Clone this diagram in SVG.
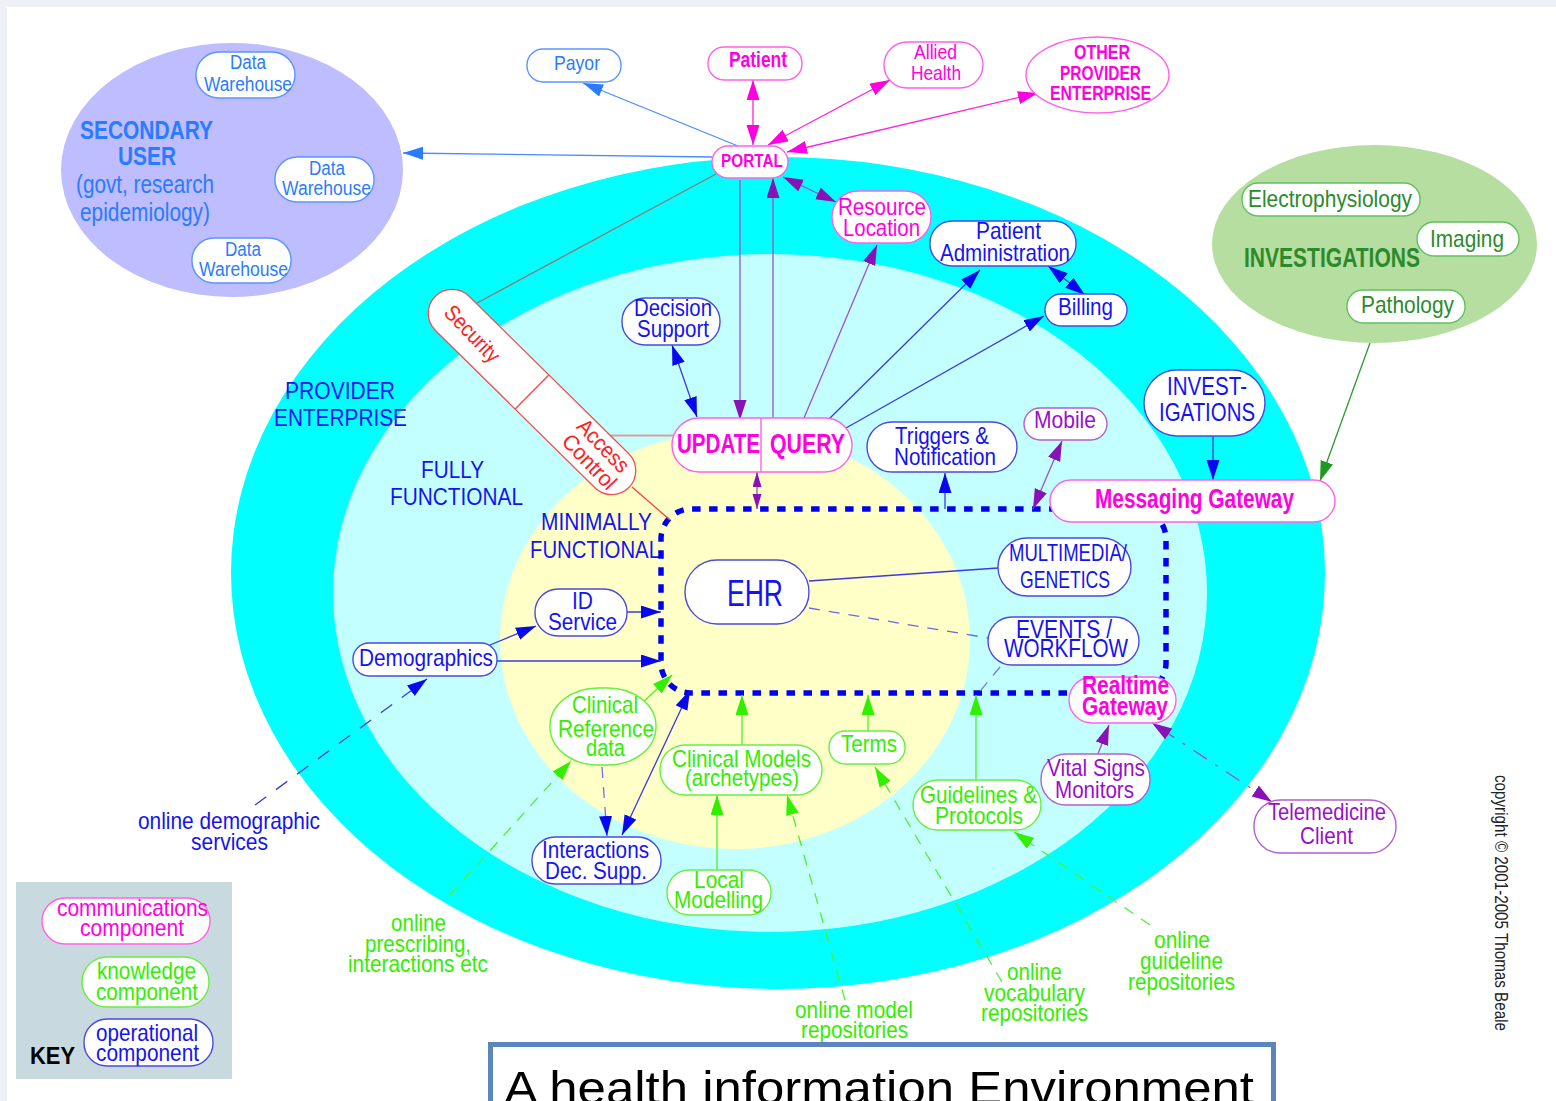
<svg xmlns="http://www.w3.org/2000/svg" width="1556" height="1101" viewBox="0 0 1556 1101">
<style>
text{font-family:"Liberation Sans",Arial,sans-serif;font-size:24px}
.b{fill:#1414f0}.s{fill:#2a7bff}.m{fill:#ff00e0}.p{fill:#9a10c8}.g{fill:#33ee00}.r{fill:#ff2020}.dg{fill:#2c8a2c}
.bd{font-weight:bold}
.nb,.ns,.nm,.np,.ng{fill:#fff;stroke-width:1.4}
.nb{stroke:#4a4ae0}.ns{stroke:#5a95ff}.nm{stroke:#ff60e8}.np{stroke:#b060d0}.ng{stroke:#66f040}
.c{fill:none;stroke-width:1.3}
.cb{stroke:#3a3ae0}.cs{stroke:#4a8cff}.cm{stroke:#ff20e0}.cp{stroke:#a050c8}.cg{stroke:#50f030}.cd{stroke:#2c9a2c}
.d{stroke-dasharray:11 9}
</style>
<defs>
<marker id="ab" markerUnits="userSpaceOnUse" markerWidth="22" markerHeight="15" refX="20" refY="6.500" orient="auto-start-reverse"><path d="M0,0L20,6.500L0,13z" fill="#0808f0"/></marker>
<marker id="as" markerUnits="userSpaceOnUse" markerWidth="22" markerHeight="15" refX="20" refY="6.500" orient="auto-start-reverse"><path d="M0,0L20,6.500L0,13z" fill="#2a7bff"/></marker>
<marker id="am" markerUnits="userSpaceOnUse" markerWidth="22" markerHeight="15" refX="20" refY="6.500" orient="auto-start-reverse"><path d="M0,0L20,6.500L0,13z" fill="#ff00e0"/></marker>
<marker id="ap" markerUnits="userSpaceOnUse" markerWidth="22" markerHeight="15" refX="20" refY="6.500" orient="auto-start-reverse"><path d="M0,0L20,6.500L0,13z" fill="#8a10b8"/></marker>
<marker id="aps" markerUnits="userSpaceOnUse" markerWidth="16" markerHeight="10" refX="15" refY="4.500" orient="auto-start-reverse"><path d="M0,0L15,4.500L0,9z" fill="#8a10b8"/></marker>
<marker id="ag" markerUnits="userSpaceOnUse" markerWidth="22" markerHeight="15" refX="20" refY="6.500" orient="auto-start-reverse"><path d="M0,0L20,6.500L0,13z" fill="#30f000"/></marker>
<marker id="ad" markerUnits="userSpaceOnUse" markerWidth="22" markerHeight="15" refX="20" refY="6.500" orient="auto-start-reverse"><path d="M0,0L20,6.500L0,13z" fill="#1f9a1f"/></marker>
</defs>
<rect width="1556" height="1101" fill="#eef0f5"/>
<rect x="7" y="7" width="1549" height="1094" fill="#fff"/>
<g id="zones">
<ellipse cx="778" cy="573" rx="547" ry="416" fill="#00ffff"/>
<ellipse cx="770" cy="593" rx="437" ry="339" fill="#c4ffff"/>
<ellipse cx="735" cy="640" rx="235" ry="209" fill="#ffffc8"/>
<ellipse cx="232" cy="170" rx="171" ry="127" fill="#bdbdff"/>
<ellipse cx="1374.500" cy="244" rx="162.500" ry="99" fill="#b5dea0"/>
<text class="b" x="285" y="399" textLength="110" lengthAdjust="spacingAndGlyphs">PROVIDER</text>
<text class="b" x="274" y="426" textLength="133" lengthAdjust="spacingAndGlyphs">ENTERPRISE</text>
<text class="b" x="421" y="478" textLength="63" lengthAdjust="spacingAndGlyphs">FULLY</text>
<text class="b" x="390" y="505" textLength="133" lengthAdjust="spacingAndGlyphs">FUNCTIONAL</text>
<text class="b" x="541" y="530" textLength="111" lengthAdjust="spacingAndGlyphs">MINIMALLY</text>
<text class="b" x="530" y="558" textLength="130" lengthAdjust="spacingAndGlyphs">FUNCTIONAL</text>
<text class="s bd" x="80" y="139" textLength="133" lengthAdjust="spacingAndGlyphs" style="font-size:26px">SECONDARY</text>
<text class="s bd" x="118" y="165" textLength="58" lengthAdjust="spacingAndGlyphs" style="font-size:26px">USER</text>
<text class="s" x="76" y="193" textLength="138" lengthAdjust="spacingAndGlyphs" style="font-size:25px">(govt, research</text>
<text class="s" x="80" y="221" textLength="130" lengthAdjust="spacingAndGlyphs" style="font-size:25px">epidemiology)</text>
<text class="dg bd" x="1244" y="267" textLength="176" lengthAdjust="spacingAndGlyphs" style="font-size:27px">INVESTIGATIONS</text>
</g>
<g id="connectors">
<path fill="none" stroke="#0000f0" stroke-width="5.500" stroke-dasharray="8.500 8.500" d="M701.500,693H1136A30,30 0 0 0 1166,663V539A30,30 0 0 0 1136,509H691A30,30 0 0 0 661,539V663A30,30 0 0 0 691,693H701.500"/>
<path class="c" stroke="#a07070" d="M477,303L716,174"/>
<path fill="none" stroke="#d8a0a0" stroke-width="2" d="M608,435.500H673"/>
<path class="c" stroke="#ff4040" d="M632,487L670,520"/>
<path class="c cs" marker-end="url(#as)" d="M738,146L583,83"/>
<path class="c cs" marker-end="url(#as)" d="M712,157L403,153"/>
<path class="c cm" marker-start="url(#am)" marker-end="url(#am)" d="M753,80V145"/>
<path class="c cm" marker-start="url(#am)" marker-end="url(#am)" d="M890,80L768,145"/>
<path class="c cm" marker-start="url(#am)" marker-end="url(#am)" d="M1038,93L787,152"/>
<path class="c cp" marker-start="url(#ap)" marker-end="url(#ap)" d="M783,177L836,202"/>
<path class="c cp" marker-end="url(#ap)" d="M740,180V420"/>
<path class="c cp" marker-end="url(#ap)" d="M773,418V178"/>
<path class="c cp" marker-end="url(#ap)" d="M804,418L877,245"/>
<path class="c cb" marker-end="url(#ab)" d="M828,420L980,270"/>
<path class="c cb" marker-end="url(#ab)" d="M846,428L1044,316"/>
<path class="c cb" marker-start="url(#ab)" marker-end="url(#ab)" d="M1048,266L1085,295"/>
<path class="c cb" marker-start="url(#ab)" marker-end="url(#ab)" d="M672,345L697,417"/>
<path class="c cp" marker-start="url(#aps)" marker-end="url(#aps)" d="M757,472V509"/>
<path class="c cb" marker-end="url(#ab)" d="M945,509V473"/>
<path class="c cp" marker-start="url(#ap)" marker-end="url(#ap)" d="M1062,441L1033,509"/>
<path class="c cb" marker-end="url(#ab)" d="M1213,436V480"/>
<path class="c cd" marker-end="url(#ad)" d="M1370,343L1320,481"/>
<path class="c cb" marker-end="url(#ab)" d="M627,612H661"/>
<path class="c cb" marker-end="url(#ab)" d="M490,645L536,626"/>
<path class="c cb" marker-end="url(#ab)" d="M497,661H661"/>
<path class="c cb" stroke-dasharray="14 12" marker-end="url(#ab)" d="M255,805L427,679"/>
<path class="c cg" marker-end="url(#ag)" d="M640,705L672,675"/>
<path class="c cb" marker-start="url(#ab)" marker-end="url(#ab)" d="M622,835L690,690"/>
<path class="c cb d" style="stroke:#7070ee" marker-end="url(#ab)" d="M602,767L607,836"/>
<path class="c cg" marker-end="url(#ag)" d="M742,745V695"/>
<path class="c cg" marker-end="url(#ag)" d="M868,731V695"/>
<path class="c cg" marker-end="url(#ag)" d="M976,780V695"/>
<path class="c cg" marker-end="url(#ag)" d="M717,870V795"/>
<path class="c cg d" marker-end="url(#ag)" d="M845,1000L787,795"/>
<path class="c cg d" marker-end="url(#ag)" d="M1002,982L875,767"/>
<path class="c cg d" marker-end="url(#ag)" d="M1150,925L1014,832"/>
<path class="c cg d" marker-end="url(#ag)" d="M450,895L571,761"/>
<path class="c cb" d="M809,581L998,568"/>
<path class="c cb d" style="stroke:#6a6ae0" d="M809,608L988,638"/>
<path class="c cb d" style="stroke:#7a7add" d="M1000,667L977,695"/>
<path class="c cp" marker-end="url(#ap)" d="M1098,754L1109,725"/>
<path class="c cp" stroke-dasharray="16 10 3 10" marker-start="url(#ap)" marker-end="url(#ap)" d="M1272,802L1152,723"/>
</g>
<g id="dw1"><rect class="ns" x="196" y="52" width="99" height="46" rx="23"/><text class="s" x="230" y="69" textLength="36" lengthAdjust="spacingAndGlyphs" style="font-size:20px">Data</text><text class="s" x="204" y="91" textLength="88" lengthAdjust="spacingAndGlyphs" style="font-size:20px">Warehouse</text></g>
<g id="dw2"><rect class="ns" x="275" y="157" width="99" height="45" rx="22"/><text class="s" x="309" y="175" textLength="36" lengthAdjust="spacingAndGlyphs" style="font-size:20px">Data</text><text class="s" x="282" y="195" textLength="89" lengthAdjust="spacingAndGlyphs" style="font-size:20px">Warehouse</text></g>
<g id="dw3"><rect class="ns" x="192" y="238" width="99" height="45" rx="22"/><text class="s" x="225" y="256" textLength="36" lengthAdjust="spacingAndGlyphs" style="font-size:20px">Data</text><text class="s" x="199" y="276" textLength="89" lengthAdjust="spacingAndGlyphs" style="font-size:20px">Warehouse</text></g>
<g id="payor"><rect class="ns" x="527" y="49" width="94" height="33" rx="16"/><text class="s" x="554" y="70" textLength="46" lengthAdjust="spacingAndGlyphs" style="font-size:21px">Payor</text></g>
<g id="patient"><rect class="nm" x="708" y="47" width="94" height="33" rx="16"/><text class="m bd" x="729" y="67" textLength="58" lengthAdjust="spacingAndGlyphs" style="font-size:22px">Patient</text></g>
<g id="allied"><rect class="nm" x="884" y="42" width="99" height="46" rx="23"/><text class="m" x="914" y="59" textLength="43" lengthAdjust="spacingAndGlyphs" style="font-size:21px">Allied</text><text class="m" x="911" y="80" textLength="50" lengthAdjust="spacingAndGlyphs" style="font-size:21px">Health</text></g>
<g id="other"><ellipse class="nm" cx="1097.500" cy="75" rx="71.500" ry="38"/><text class="m bd" x="1074" y="59" textLength="56" lengthAdjust="spacingAndGlyphs" style="font-size:20px">OTHER</text><text class="m bd" x="1060" y="80" textLength="81" lengthAdjust="spacingAndGlyphs" style="font-size:20px">PROVIDER</text><text class="m bd" x="1050" y="100" textLength="101" lengthAdjust="spacingAndGlyphs" style="font-size:20px">ENTERPRISE</text></g>
<g id="portal"><rect class="nm" x="712" y="146" width="76" height="32" rx="16"/><text class="m bd" x="721" y="167" textLength="62" lengthAdjust="spacingAndGlyphs" style="font-size:19px">PORTAL</text></g>
<g id="resource"><rect class="nm" x="832" y="191" width="99" height="52" rx="26"/><text class="m" x="838" y="215" textLength="88" lengthAdjust="spacingAndGlyphs">Resource</text><text class="m" x="843" y="236" textLength="77" lengthAdjust="spacingAndGlyphs">Location</text></g>
<g id="admin"><rect class="nb" x="930" y="221" width="146" height="45" rx="22"/><text class="b" x="976" y="239" textLength="65" lengthAdjust="spacingAndGlyphs">Patient</text><text class="b" x="940" y="261" textLength="130" lengthAdjust="spacingAndGlyphs">Administration</text></g>
<g id="billing"><rect class="nb" x="1045" y="294" width="82" height="32" rx="16"/><text class="b" x="1058" y="315" textLength="55" lengthAdjust="spacingAndGlyphs">Billing</text></g>
<g id="decision"><rect class="nb" x="622" y="298" width="98" height="47" rx="23"/><text class="b" x="634" y="316" textLength="78" lengthAdjust="spacingAndGlyphs">Decision</text><text class="b" x="637" y="337" textLength="72" lengthAdjust="spacingAndGlyphs">Support</text></g>
<g id="security"><g transform="translate(532,392) rotate(44.600)"><rect x="-136" y="-24" width="272" height="48" rx="24" fill="#fff" stroke="#f05050" stroke-width="1.300"/><path d="M0,-24V24" stroke="#f05050" stroke-width="1.500"/></g>
<text class="r" text-anchor="middle" transform="translate(467,339) rotate(46)" textLength="70" lengthAdjust="spacingAndGlyphs" style="font-size:22px">Security</text>
<text class="r" text-anchor="middle" transform="translate(598,451) rotate(46)" textLength="65" lengthAdjust="spacingAndGlyphs" style="font-size:22px">Access</text>
<text class="r" text-anchor="middle" transform="translate(584,467) rotate(46)" textLength="68" lengthAdjust="spacingAndGlyphs" style="font-size:22px">Control</text></g>
<g id="update-query"><rect class="nm" x="672" y="418" width="180" height="54" rx="27"/><path d="M761,418V472" stroke="#ff60e8" stroke-width="1.400"/><text class="m bd" x="677" y="453" textLength="83" lengthAdjust="spacingAndGlyphs" style="font-size:27px">UPDATE</text><text class="m bd" x="770" y="453" textLength="75" lengthAdjust="spacingAndGlyphs" style="font-size:27px">QUERY</text></g>
<g id="triggers"><rect class="nb" x="867" y="422" width="150" height="50" rx="25"/><text class="b" x="895" y="444" textLength="94" lengthAdjust="spacingAndGlyphs">Triggers &amp;</text><text class="b" x="894" y="465" textLength="102" lengthAdjust="spacingAndGlyphs">Notification</text></g>
<g id="mobile"><rect class="np" x="1024" y="408" width="83" height="32" rx="16"/><text class="p" x="1034" y="428" textLength="62" lengthAdjust="spacingAndGlyphs">Mobile</text></g>
<g id="invest"><rect class="nb" x="1144" y="370" width="121" height="66" rx="33"/><text class="b" x="1167" y="395" textLength="80" lengthAdjust="spacingAndGlyphs" style="font-size:25px">INVEST-</text><text class="b" x="1159" y="421" textLength="96" lengthAdjust="spacingAndGlyphs" style="font-size:25px">IGATIONS</text></g>
<g id="messaging"><rect class="nm" x="1050" y="480" width="285" height="42" rx="21"/><text class="m bd" x="1095" y="508" textLength="199" lengthAdjust="spacingAndGlyphs" style="font-size:27px">Messaging Gateway</text></g>
<g id="electro"><rect class="ng" style="stroke:#60c060" x="1242" y="183" width="178" height="33" rx="16"/><text class="dg" x="1248" y="207" textLength="164" lengthAdjust="spacingAndGlyphs">Electrophysiology</text></g>
<g id="imaging"><rect class="ng" style="stroke:#60c060" x="1417" y="222" width="102" height="34" rx="17"/><text class="dg" x="1430" y="247" textLength="74" lengthAdjust="spacingAndGlyphs">Imaging</text></g>
<g id="pathology"><rect class="ng" style="stroke:#60c060" x="1347" y="290" width="118" height="33" rx="16"/><text class="dg" x="1361" y="313" textLength="93" lengthAdjust="spacingAndGlyphs">Pathology</text></g>
<g id="ehr"><rect class="nb" x="685" y="560" width="124" height="64" rx="32"/><text class="b" x="727" y="606" textLength="56" lengthAdjust="spacingAndGlyphs" style="font-size:37px">EHR</text></g>
<g id="multimedia"><rect class="nb" x="998" y="538" width="133" height="58" rx="29"/><text class="b" x="1009" y="561" textLength="118" lengthAdjust="spacingAndGlyphs">MULTIMEDIA/</text><text class="b" x="1020" y="588" textLength="90" lengthAdjust="spacingAndGlyphs">GENETICS</text></g>
<g id="events"><rect class="nb" x="988" y="617" width="151" height="48" rx="24"/><text class="b" x="1016" y="638" textLength="96" lengthAdjust="spacingAndGlyphs" style="font-size:25px">EVENTS /</text><text class="b" x="1004" y="657" textLength="124" lengthAdjust="spacingAndGlyphs" style="font-size:25px">WORKFLOW</text></g>
<g id="id-service"><rect class="nb" x="535" y="589" width="92" height="47" rx="23"/><text class="b" x="572" y="609" textLength="21" lengthAdjust="spacingAndGlyphs">ID</text><text class="b" x="548" y="630" textLength="69" lengthAdjust="spacingAndGlyphs">Service</text></g>
<g id="demographics"><rect class="nb" x="353" y="643" width="144" height="33" rx="16"/><text class="b" x="359" y="666" textLength="134" lengthAdjust="spacingAndGlyphs">Demographics</text></g>
<g id="clinical-ref"><rect class="ng" x="550" y="688" width="106" height="77" rx="48" ry="38"/><text class="g" x="572" y="713" textLength="66" lengthAdjust="spacingAndGlyphs">Clinical</text><text class="g" x="558" y="737" textLength="96" lengthAdjust="spacingAndGlyphs">Reference</text><text class="g" x="586" y="756" textLength="39" lengthAdjust="spacingAndGlyphs">data</text></g>
<g id="clinical-models"><rect class="ng" x="660" y="745" width="162" height="50" rx="25"/><text class="g" x="672" y="767" textLength="139" lengthAdjust="spacingAndGlyphs">Clinical Models</text><text class="g" x="685" y="786" textLength="114" lengthAdjust="spacingAndGlyphs">(archetypes)</text></g>
<g id="terms"><rect class="ng" x="829" y="731" width="76" height="33" rx="16"/><text class="g" x="841" y="752" textLength="56" lengthAdjust="spacingAndGlyphs">Terms</text></g>
<g id="guidelines"><rect class="ng" x="913" y="780" width="128" height="50" rx="25"/><text class="g" x="920" y="803" textLength="117" lengthAdjust="spacingAndGlyphs">Guidelines &amp;</text><text class="g" x="935" y="824" textLength="88" lengthAdjust="spacingAndGlyphs">Protocols</text></g>
<g id="vital"><rect class="np" x="1041" y="754" width="109" height="51" rx="25"/><text class="p" x="1047" y="776" textLength="98" lengthAdjust="spacingAndGlyphs">Vital Signs</text><text class="p" x="1055" y="798" textLength="79" lengthAdjust="spacingAndGlyphs">Monitors</text></g>
<g id="realtime"><rect class="nm" x="1069" y="677" width="107" height="46" rx="23"/><text class="m bd" x="1082" y="694" textLength="87" lengthAdjust="spacingAndGlyphs" style="font-size:25px">Realtime</text><text class="m bd" x="1082" y="715" textLength="86" lengthAdjust="spacingAndGlyphs" style="font-size:25px">Gateway</text></g>
<g id="telemedicine"><rect class="np" x="1254" y="800" width="142" height="53" rx="26"/><text class="p" x="1268" y="820" textLength="118" lengthAdjust="spacingAndGlyphs">Telemedicine</text><text class="p" x="1300" y="844" textLength="53" lengthAdjust="spacingAndGlyphs">Client</text></g>
<g id="interactions"><rect class="nb" x="532" y="837" width="129" height="47" rx="23"/><text class="b" x="542" y="858" textLength="107" lengthAdjust="spacingAndGlyphs">Interactions</text><text class="b" x="545" y="879" textLength="102" lengthAdjust="spacingAndGlyphs">Dec. Supp.</text></g>
<g id="local"><rect class="ng" x="667" y="870" width="104" height="45" rx="22"/><text class="g" x="694" y="888" textLength="50" lengthAdjust="spacingAndGlyphs">Local</text><text class="g" x="674" y="908" textLength="89" lengthAdjust="spacingAndGlyphs">Modelling</text></g>
<g id="labels">
<text class="b" x="138" y="829" textLength="182" lengthAdjust="spacingAndGlyphs">online demographic</text>
<text class="b" x="191" y="850" textLength="77" lengthAdjust="spacingAndGlyphs">services</text>
<text class="g" x="391" y="931" textLength="55" lengthAdjust="spacingAndGlyphs">online</text>
<text class="g" x="365" y="952" textLength="106" lengthAdjust="spacingAndGlyphs">prescribing,</text>
<text class="g" x="348" y="972" textLength="140" lengthAdjust="spacingAndGlyphs">interactions etc</text>
<text class="g" x="795" y="1018" textLength="118" lengthAdjust="spacingAndGlyphs">online model</text>
<text class="g" x="801" y="1038" textLength="107" lengthAdjust="spacingAndGlyphs">repositories</text>
<text class="g" x="1007" y="980" textLength="55" lengthAdjust="spacingAndGlyphs">online</text>
<text class="g" x="984" y="1001" textLength="101" lengthAdjust="spacingAndGlyphs">vocabulary</text>
<text class="g" x="981" y="1021" textLength="107" lengthAdjust="spacingAndGlyphs">repositories</text>
<text class="g" x="1154" y="948" textLength="56" lengthAdjust="spacingAndGlyphs">online</text>
<text class="g" x="1140" y="969" textLength="83" lengthAdjust="spacingAndGlyphs">guideline</text>
<text class="g" x="1128" y="990" textLength="107" lengthAdjust="spacingAndGlyphs">repositories</text>
<text fill="#222" transform="translate(1495,775) rotate(90)" textLength="256" lengthAdjust="spacingAndGlyphs" style="font-size:18px">copyright © 2001-2005 Thomas Beale</text>
</g>
<g id="key">
<rect x="16" y="882" width="216" height="197" fill="#c9d9e0"/>
<g id="key-comm"><rect class="nm" x="42" y="898" width="168" height="46" rx="23"/><text class="m" x="57" y="916" textLength="151" lengthAdjust="spacingAndGlyphs">communications</text><text class="m" x="80" y="936" textLength="104" lengthAdjust="spacingAndGlyphs">component</text></g>
<g id="key-know"><rect class="ng" x="82" y="957" width="127" height="50" rx="25"/><text class="g" x="97" y="979" textLength="99" lengthAdjust="spacingAndGlyphs">knowledge</text><text class="g" x="96" y="1000" textLength="102" lengthAdjust="spacingAndGlyphs">component</text></g>
<g id="key-oper"><rect class="nb" x="84" y="1019" width="129" height="47" rx="23"/><text class="b" x="96" y="1041" textLength="102" lengthAdjust="spacingAndGlyphs">operational</text><text class="b" x="96" y="1061" textLength="103" lengthAdjust="spacingAndGlyphs">component</text></g>
<text x="30" y="1064" textLength="45" lengthAdjust="spacingAndGlyphs" fill="#000" font-weight="bold">KEY</text>
</g>
<g id="title"><rect x="490.500" y="1044.500" width="783" height="80" fill="#fff" stroke="#5c86bb" stroke-width="5"/><text x="504" y="1104" textLength="750" lengthAdjust="spacingAndGlyphs" fill="#000" style="font-size:46px">A health information Environment</text></g>
</svg>
